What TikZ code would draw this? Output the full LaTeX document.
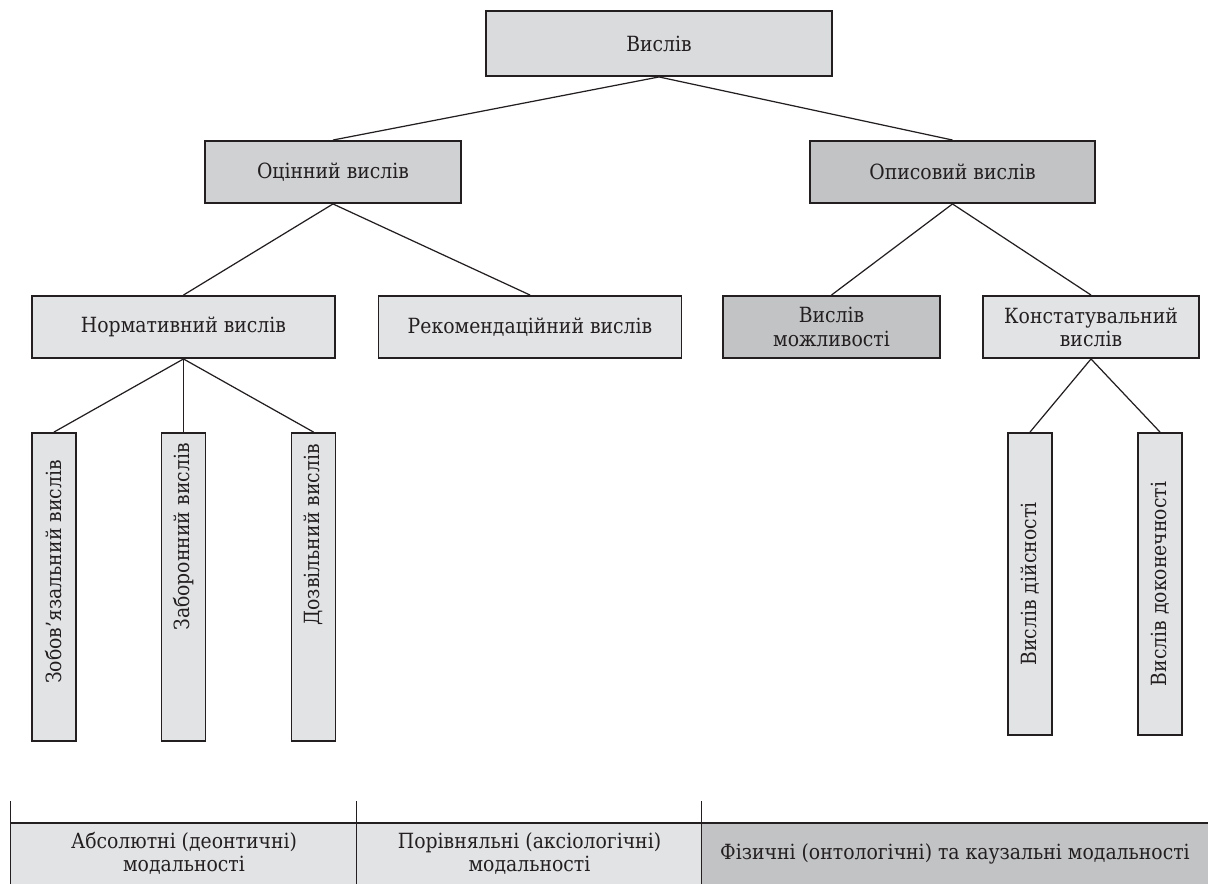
\documentclass[tikz,border=0pt]{standalone}
\usepackage{fontspec}
\setmainfont{DejaVu Serif}[FakeStretch=0.9]
\definecolor{ink}{RGB}{35,31,32}
\definecolor{pale}{RGB}{226,227,229}
\definecolor{topgray}{RGB}{218,219,221}
\definecolor{midgray}{RGB}{208,209,211}
\definecolor{darkgray}{RGB}{194,195,197}

\begin{document}
\begin{tikzpicture}[x=0.02cm, y=-0.02cm]
  \tikzset{
    txt/.style={text=ink, font=\fontsize{11.9pt}{13.2pt}\selectfont},
    box/.style={txt, draw=ink, line width=1.1pt, fill=pale, inner sep=0pt,
      minimum height=1.24cm, align=center},
    vbox/.style={box, minimum width=0.88cm},
    edge/.style={draw=ink, line width=0.7pt},
    cell/.style={txt, fill=pale, inner sep=0pt, minimum height=1.22cm, align=center},
    rule/.style={draw=ink, line width=1.1pt},
    tick/.style={draw=ink, line width=0.8pt},
  }
  \useasboundingbox (0,0) rectangle (1208,884);

  % top level
  \node[box, fill=topgray, minimum width=6.92cm, minimum height=1.3cm] (vyslov) at (659,43.5) {Вислів};

  % second level
  \node[box, fill=midgray, minimum width=5.12cm] (otsinnyi) at (333,172) {Оцінний вислів};
  \node[box, fill=darkgray, minimum width=5.7cm] (opysovyi) at (952.5,172) {Описовий вислів};

  % third level
  \node[box, minimum width=6.06cm] (normat) at (183.5,327) {Нормативний вислів};
  \node[box, minimum width=6.06cm] (rekomend) at (530,327) {Рекомендаційний вислів};
  \node[box, fill=darkgray, minimum width=4.34cm] (mozhlyv) at (831.5,327) {Вислів\\можливості};
  \node[box, minimum width=4.32cm] (konstat) at (1091,327) {Констатувальний\\вислів};

  % vertical boxes
  \node[vbox, minimum height=6.16cm] (zobov) at (54,587) {};
  \node[vbox, minimum height=6.16cm] (zaboron) at (183.5,587) {};
  \node[vbox, minimum height=6.16cm] (dozvil) at (313.5,587) {};
  \node[vbox, minimum height=6.04cm] (dijsn) at (1030,584) {};
  \node[vbox, minimum height=6.04cm] (dokon) at (1160,584) {};
  \node[txt, rotate=90] (zobovtxt) at (54,572) {Зобов’язальний вислів};
  \node[txt, rotate=90] (zaborontxt) at (183.5,537) {Заборонний вислів};
  \node[txt, rotate=90] (dozviltxt) at (313.5,535) {Дозвільний вислів};
  \node[txt, rotate=90] (dijsntxt) at (dijsn) {Вислів дійсності};
  \node[txt, rotate=90] (dokontxt) at (dokon) {Вислів доконечності};

  % connectors
  \draw[edge] (vyslov.south) -- (otsinnyi.north);
  \draw[edge] (vyslov.south) -- (opysovyi.north);
  \draw[edge] (otsinnyi.south) -- (normat.north);
  \draw[edge] (otsinnyi.south) -- (rekomend.north);
  \draw[edge] (opysovyi.south) -- (mozhlyv.north);
  \draw[edge] (opysovyi.south) -- (konstat.north);
  \foreach \n in {zobov,zaboron,dozvil}
    \draw[edge] (normat.south) -- (\n.north);
  \foreach \n in {dijsn,dokon}
    \draw[edge] (konstat.south) -- (\n.north);

  % bottom table
  \node[cell, minimum width=6.92cm] (absol) at (184,853.5) {Абсолютні (деонтичні)\\модальності};
  \node[cell, minimum width=6.9cm] (porivn) at (529.5,853.5) {Порівняльні (аксіологічні)\\модальності};
  \node[cell, fill=darkgray, minimum width=10.12cm] (fizych) at (955,853.5) {Фізичні (онтологічні) та каузальні модальності};
  \draw[rule] (absol.north west) -- (fizych.north east);
  \foreach \n in {absol,porivn,fizych}
    \draw[tick] (\n.south west) -- ([yshift=0.44cm]\n.north west);
\end{tikzpicture}
\end{document}
